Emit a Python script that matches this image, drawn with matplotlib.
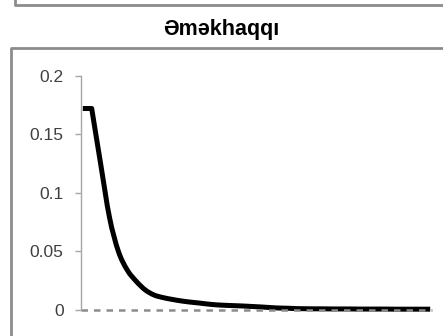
import numpy as np
import matplotlib.pyplot as plt
from matplotlib.lines import Line2D
from matplotlib.path import Path
from matplotlib.patches import PathPatch

plt.rcParams['font.family'] = ['Liberation Sans', 'DejaVu Sans']

title = "Əməkhaqqı"
periods = np.arange(40)
values = [0.172, 0.172, 0.125, 0.079, 0.050, 0.034, 0.0245, 0.0172, 0.0128, 0.0106,
          0.0091, 0.0078, 0.0068, 0.0060, 0.0051, 0.0044, 0.0040, 0.0037, 0.0034, 0.0030,
          0.0026, 0.0021, 0.0017, 0.0015, 0.0012, 0.0011, 0.0010, 0.0010, 0.0009, 0.0009,
          0.0009, 0.0008, 0.0008, 0.0008, 0.0008, 0.0007, 0.0007, 0.0007, 0.0007, 0.0007]
yticks = [0, 0.05, 0.1, 0.15, 0.2]
ytick_labels = ["0", "0.05", "0.1", "0.15", "0.2"]

W, H = 443, 336
fig = plt.figure(figsize=(W / 100, H / 100), dpi=100)


def fx(px):
    return px / W


def fy(py):
    return 1 - py / H


def smooth_path(x, y, tension=1 / 6):
    # Catmull-Rom spline through the points; flat first step drawn straight
    pts = np.column_stack([x, y]).astype(float)
    verts = [pts[0], pts[1]]
    codes = [Path.MOVETO, Path.LINETO]
    n = len(pts)
    for i in range(1, n - 1):
        p1 = pts[i]
        p2 = pts[i + 1]
        p0 = pts[i - 1] if i > 1 else p1 - (p2 - p1)
        p3 = pts[min(i + 2, n - 1)]
        c1 = p1 + (p2 - p0) * tension
        c2 = p2 - (p3 - p1) * tension
        verts += [c1, c2, p2]
        codes += [Path.CURVE4] * 3
    return Path(verts, codes)


# panel frames
frame = dict(color="#8c8c8c", lw=2.0, transform=fig.transFigure, clip_on=False)
fig.add_artist(Line2D([fx(14.5), fx(14.5), fx(445)], [fy(-2), fy(4.5), fy(4.5)], **frame))
fig.add_artist(Line2D([fx(11), fx(11), fx(445)], [fy(340), fy(47.5), fy(47.5)], **frame))

fig.text(fx(221.5), fy(30), title, ha="center", va="center",
         fontsize=15.5, fontweight="bold", color="black")

ax = fig.add_axes([fx(81), fy(310), fx(432) - fx(81), fy(75.7) - fy(310)])
ax.set_xlim(-0.2, 39.2)
ax.set_ylim(0, 0.2)

ax.plot([-0.2, 39.2], [0, 0], color="#8c8c8c", lw=1.8, dashes=(2.6, 2.4), clip_on=False)
ax.add_patch(PathPatch(smooth_path(periods, values), facecolor="none", edgecolor="black",
                       lw=3.6, capstyle="butt", joinstyle="round", clip_on=False))

for s in ["top", "right", "bottom"]:
    ax.spines[s].set_visible(False)
ax.spines["left"].set_color("#a6a6a6")
ax.spines["left"].set_linewidth(1.0)
ax.set_xticks([])
ax.set_yticks(yticks)
ax.set_yticklabels(ytick_labels)
ax.tick_params(axis="y", length=4, width=1.0, color="#a6a6a6", pad=8.5,
               labelsize=12.5, labelcolor="#404040")

fig.savefig("out.png", dpi=100)
